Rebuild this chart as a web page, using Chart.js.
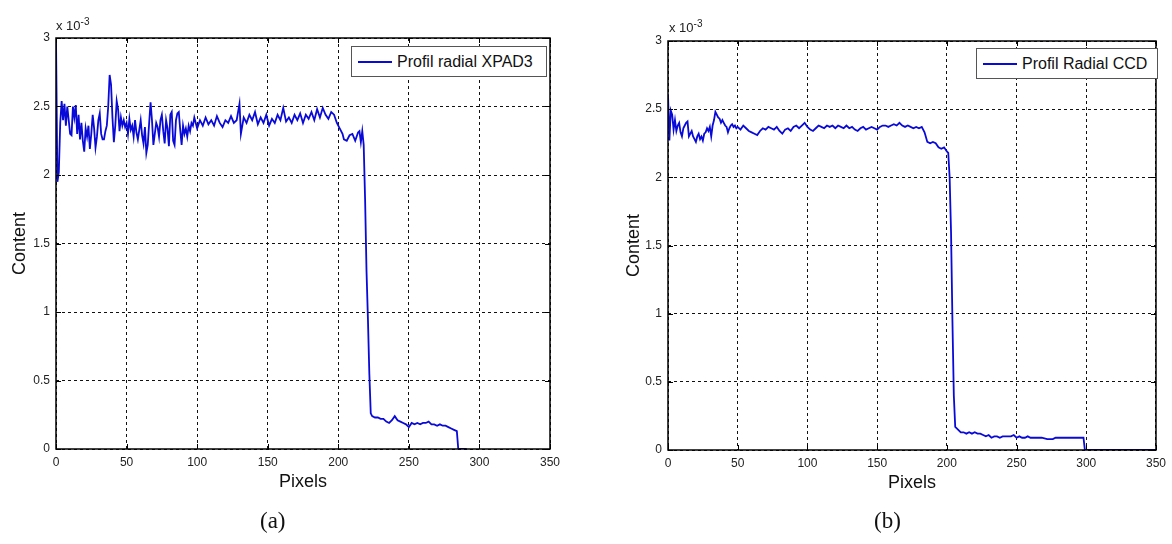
<!DOCTYPE html>
<html>
<head>
<meta charset="utf-8">
<script src="https://cdn.jsdelivr.net/npm/chart.js@4"></script>
<style>
  body { margin: 0; background: #fff; width: 1172px; height: 544px; position: relative; overflow: hidden; font-family: "Liberation Sans", Arial, sans-serif; }
  .panel { position: absolute; top: 0; height: 544px; }
  .exp { position: absolute; font-size: 13px; color: #222; }
  .exp sup { font-size: 10px; }
  .legend { position: absolute; height: 29px; border: 1px solid #555; background: #fff; font-size: 16px; color: #111; display: flex; align-items: center; }
  .legend .swatch { display: inline-block; width: 34px; height: 2px; margin: 0 5px 0 6px; }
  .caption { position: absolute; top: 508px; font-family: "Liberation Serif", "DejaVu Serif", serif; font-size: 23px; color: #111; }
</style>
</head>
<body>
<div class="panel" style="left:0;width:585px"><canvas id="chartA"></canvas></div>
<div class="panel" style="left:612px;width:560px"><canvas id="chartB"></canvas></div>
<div class="exp" style="left:56px;top:16px">x 10<sup>-3</sup></div>
<div class="exp" style="left:669px;top:18px">x 10<sup>-3</sup></div>
<div class="legend" id="legendA" style="left:351px;top:46px;width:194px"></div>
<div class="legend" id="legendB" style="left:976px;top:48px;width:180px"></div>
<div class="caption" style="left:260px">(a)</div>
<div class="caption" style="left:874px">(b)</div>
<script>
// Radial profile (a): pixel index and content (x 1e-3)
const pixelsA = [
  0, 1, 2, 3, 4, 5, 6, 7, 8, 9, 10, 11, 12, 13, 14, 15, 16, 17, 18, 19,
  20, 21, 22, 23, 24, 25, 26, 27, 28, 29, 30, 31, 32, 33, 34, 35, 36, 37, 38, 39,
  40, 41, 42, 43, 44, 45, 46, 47, 48, 49, 50, 51, 52, 53, 54, 55, 56, 57, 58, 59,
  60, 61, 62, 63, 64, 65, 66, 67, 68, 69, 70, 71, 72, 73, 74, 75, 76, 77, 78, 79,
  80, 81, 82, 83, 84, 85, 86, 87, 88, 89, 90, 91, 92, 93, 94, 95, 96, 97, 98, 99,
  100, 102, 104, 106, 108, 110, 112, 114, 116, 118, 120, 122, 124, 126, 128, 130, 131, 133, 135, 137,
  139, 141, 143, 145, 147, 149, 151, 153, 155, 157, 159, 161, 163, 165, 167, 169, 171, 173, 175, 177,
  179, 181, 183, 185, 187, 189, 191, 193, 195, 197, 199, 201, 203, 204, 206, 208, 210, 212, 214, 215,
  216, 217, 218, 219, 220, 221, 222, 223, 224, 226, 228, 230, 232, 234, 236, 238, 240, 242, 244, 246,
  248, 250, 252, 254, 256, 258, 260, 262, 264, 266, 268, 270, 272, 274, 276, 278, 280, 282, 284, 285,
  291
];
const contentA = [
  3.00, 1.95, 2.02, 2.38, 2.54, 2.40, 2.52, 2.36, 2.50, 2.40, 2.30, 2.29, 2.50, 2.42, 2.51, 2.30, 2.44, 2.26, 2.38, 2.25,
  2.17, 2.34, 2.28, 2.36, 2.19, 2.30, 2.44, 2.34, 2.20, 2.28, 2.40, 2.45, 2.30, 2.26, 2.26, 2.32, 2.36, 2.50, 2.73, 2.66,
  2.42, 2.24, 2.36, 2.54, 2.48, 2.32, 2.42, 2.36, 2.40, 2.35, 2.38, 2.30, 2.41, 2.33, 2.36, 2.28, 2.40, 2.31, 2.26, 2.33,
  2.40, 2.29, 2.23, 2.35, 2.16, 2.22, 2.38, 2.53, 2.40, 2.22, 2.30, 2.38, 2.35, 2.28, 2.40, 2.44, 2.32, 2.23, 2.40, 2.34,
  2.21, 2.44, 2.46, 2.25, 2.22, 2.40, 2.45, 2.46, 2.33, 2.22, 2.36, 2.30, 2.34, 2.28, 2.36, 2.32, 2.38, 2.36, 2.42, 2.38,
  2.34, 2.40, 2.36, 2.42, 2.37, 2.40, 2.36, 2.43, 2.38, 2.35, 2.40, 2.38, 2.43, 2.38, 2.40, 2.52, 2.30, 2.42, 2.38, 2.44,
  2.40, 2.46, 2.37, 2.42, 2.38, 2.44, 2.36, 2.41, 2.38, 2.44, 2.40, 2.49, 2.39, 2.42, 2.38, 2.44, 2.40, 2.45, 2.38, 2.44,
  2.41, 2.46, 2.40, 2.48, 2.42, 2.49, 2.44, 2.41, 2.46, 2.44, 2.38, 2.34, 2.30, 2.26, 2.25, 2.29, 2.30, 2.25, 2.31, 2.32,
  2.24, 2.32, 2.22, 1.82, 1.30, 0.95, 0.55, 0.26, 0.24, 0.23, 0.23, 0.22, 0.22, 0.20, 0.19, 0.21, 0.24, 0.21, 0.20, 0.19,
  0.18, 0.16, 0.19, 0.18, 0.19, 0.18, 0.19, 0.19, 0.20, 0.18, 0.18, 0.17, 0.18, 0.17, 0.17, 0.16, 0.15, 0.14, 0.13, 0.00,
  0.00
];

// Radial profile (b): pixel index and content (x 1e-3)
const pixelsB = [
  0, 1, 2, 3, 4, 5, 6, 7, 8, 9, 10, 11, 12, 13, 14, 15, 16, 17, 18, 19,
  20, 21, 22, 23, 24, 25, 26, 27, 28, 29, 30, 31, 32, 33, 34, 35, 36, 37, 38, 39,
  40, 41, 42, 43, 44, 45, 46, 47, 48, 49, 50, 52, 54, 56, 58, 60, 62, 64, 66, 68,
  70, 72, 74, 76, 78, 80, 82, 84, 86, 88, 90, 92, 94, 96, 98, 100, 102, 104, 106, 108,
  110, 112, 114, 116, 118, 120, 122, 124, 126, 128, 130, 132, 134, 136, 138, 140, 142, 144, 146, 148,
  150, 152, 154, 156, 158, 160, 162, 164, 166, 168, 170, 172, 174, 176, 178, 180, 182, 184, 186, 188,
  190, 192, 194, 196, 198, 200, 201, 202, 203, 204, 205, 206, 208, 210, 212, 214, 216, 218, 220, 222,
  224, 226, 228, 230, 232, 234, 236, 238, 240, 242, 244, 246, 248, 250, 252, 254, 256, 258, 260, 264,
  268, 272, 276, 278, 282, 286, 290, 294, 298, 299, 350
];
const contentB = [
  2.61, 2.27, 2.49, 2.46, 2.35, 2.42, 2.34, 2.38, 2.40, 2.33, 2.30, 2.36, 2.38, 2.40, 2.41, 2.30, 2.32, 2.34, 2.30, 2.28,
  2.26, 2.30, 2.32, 2.28, 2.30, 2.27, 2.32, 2.33, 2.36, 2.34, 2.37, 2.30, 2.38, 2.42, 2.48, 2.46, 2.44, 2.43, 2.40, 2.42,
  2.40, 2.38, 2.37, 2.33, 2.36, 2.38, 2.39, 2.37, 2.38, 2.36, 2.37, 2.35, 2.38, 2.36, 2.34, 2.33, 2.32, 2.31, 2.34, 2.36,
  2.35, 2.37, 2.36, 2.35, 2.37, 2.34, 2.32, 2.35, 2.36, 2.34, 2.37, 2.38, 2.36, 2.38, 2.40, 2.37, 2.35, 2.34, 2.36, 2.38,
  2.37, 2.36, 2.38, 2.37, 2.38, 2.36, 2.38, 2.37, 2.36, 2.38, 2.36, 2.37, 2.35, 2.34, 2.36, 2.37, 2.35, 2.36, 2.37, 2.36,
  2.35, 2.37, 2.38, 2.38, 2.37, 2.38, 2.39, 2.38, 2.40, 2.38, 2.37, 2.38, 2.37, 2.36, 2.37, 2.36, 2.37, 2.33, 2.26, 2.25,
  2.26, 2.25, 2.22, 2.21, 2.22, 2.19, 2.18, 2.00, 1.60, 0.95, 0.40, 0.17, 0.15, 0.13, 0.13, 0.12, 0.13, 0.12, 0.13, 0.12,
  0.12, 0.11, 0.10, 0.11, 0.09, 0.10, 0.10, 0.09, 0.10, 0.10, 0.10, 0.10, 0.11, 0.09, 0.10, 0.09, 0.09, 0.10, 0.09, 0.09,
  0.09, 0.08, 0.08, 0.09, 0.09, 0.09, 0.09, 0.09, 0.09, 0.00, 0.00
];

const xTicks = [0, 50, 100, 150, 200, 250, 300, 350];
const yTicks = [0, 0.5, 1, 1.5, 2, 2.5, 3];

const lineColor = '#0a0ad8';

// closed box with inward tick marks, like the original figure
const boxPlugin = {
  id: 'box',
  afterDatasetsDraw(chart) {
    const {ctx, chartArea: a, scales} = chart;
    ctx.save();
    ctx.strokeStyle = '#000';
    ctx.lineWidth = 1;
    ctx.beginPath();
    xTicks.forEach(v => {
      const px = Math.round(scales.x.getPixelForValue(v)) + 0.5;
      ctx.moveTo(px, a.bottom); ctx.lineTo(px, a.bottom - 5);
      ctx.moveTo(px, a.top); ctx.lineTo(px, a.top + 5);
    });
    yTicks.forEach(v => {
      const py = Math.round(scales.y.getPixelForValue(v)) + 0.5;
      ctx.moveTo(a.left, py); ctx.lineTo(a.left + 5, py);
      ctx.moveTo(a.right, py); ctx.lineTo(a.right - 5, py);
    });
    ctx.stroke();
    ctx.lineWidth = 1.5;
    ctx.strokeRect(a.left, a.top, a.right - a.left, a.bottom - a.top);
    ctx.restore();
  }
};

function makeChart(id, legendId, label, xs, ys, pad, titlePad) {
  const points = xs.map((x, i) => ({x: x, y: ys[i]}));
  const chart = new Chart(document.getElementById(id), {
    type: 'line',
    data: {
      datasets: [{
        label: label,
        data: points,
        borderColor: lineColor,
        borderWidth: 1.8,
        pointRadius: 0,
        tension: 0,
        fill: false
      }]
    },
    options: {
      responsive: true,
      maintainAspectRatio: false,
      animation: false,
      layout: { padding: pad },
      plugins: { legend: { display: false }, tooltip: { enabled: false } },
      scales: {
        x: {
          type: 'linear', min: 0, max: 350,
          afterBuildTicks: s => { s.ticks = xTicks.map(v => ({value: v})); },
          afterFit: s => { s.height = 44; },
          grid: { color: '#111', lineWidth: 1, drawTicks: false },
          border: { display: false, dash: [3, 3] },
          ticks: { padding: 6, color: '#222', font: { family: 'Liberation Sans', size: 12 }, maxRotation: 0,
                   callback: v => String(v) },
          title: { display: true, text: 'Pixels', color: '#111', padding: 0, font: { family: 'Liberation Sans', size: 18 } }
        },
        y: {
          min: 0, max: 3,
          afterBuildTicks: s => { s.ticks = yTicks.map(v => ({value: v})); },
          afterFit: s => { s.width = 56; },
          grid: { color: '#111', lineWidth: 1, drawTicks: false },
          border: { display: false, dash: [3, 3] },
          ticks: { padding: 6, color: '#222', font: { family: 'Liberation Sans', size: 12 },
                   callback: v => String(v) },
          title: { display: true, text: 'Content', color: '#111', padding: { top: titlePad, bottom: 0 }, font: { family: 'Liberation Sans', size: 18 } }
        }
      }
    },
    plugins: [boxPlugin]
  });

  // html legend built from the dataset
  const box = document.getElementById(legendId);
  chart.data.datasets.forEach(ds => {
    const sw = document.createElement('span');
    sw.className = 'swatch';
    sw.style.background = ds.borderColor;
    const txt = document.createElement('span');
    txt.textContent = ds.label;
    box.appendChild(sw);
    box.appendChild(txt);
  });
  return chart;
}

makeChart('chartA', 'legendA', 'Profil radial XPAD3', pixelsA, contentA,
  { top: 38, right: 35, bottom: 51, left: 0 }, 9);
makeChart('chartB', 'legendB', 'Profil Radial CCD', pixelsB, contentB,
  { top: 41, right: 10, bottom: 50, left: 0 }, 11);
</script>
</body>
</html>
